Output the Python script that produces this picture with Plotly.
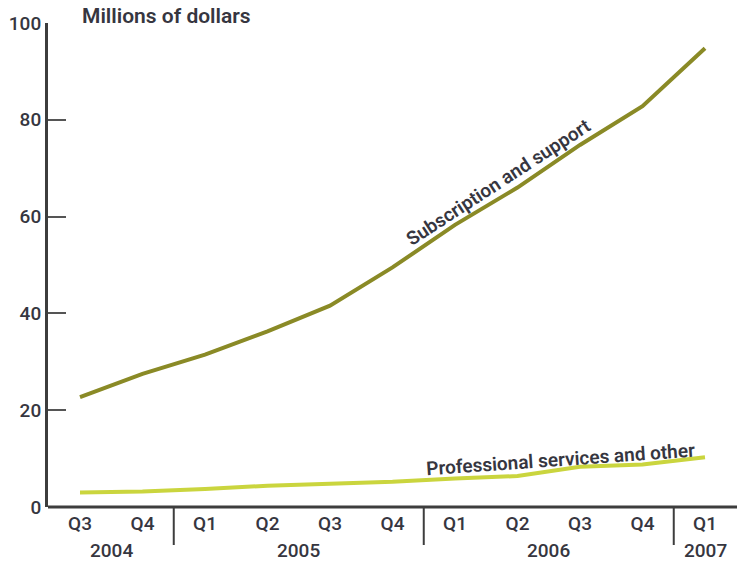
import plotly.graph_objects as go

# Quarterly revenue by segment, Q3 2004 - Q1 2007 (millions of dollars)
quarters = ["Q3", "Q4", "Q1", "Q2", "Q3", "Q4", "Q1", "Q2", "Q3", "Q4", "Q1"]
years = ["2004", "2005", "2006", "2007"]
subscription = [22.7, 27.5, 31.5, 36.3, 41.6, 49.5, 58.3, 66.0, 74.8, 82.8, 94.8]
professional = [3.0, 3.2, 3.7, 4.4, 4.8, 5.2, 5.9, 6.4, 8.3, 8.8, 10.3]
y_ticks = [0, 20, 40, 60, 80, 100]

x = list(range(len(quarters)))
FONT = "Roboto, Arial, sans-serif"
TXT = "#363640"
AX = "#3d3d3d"

fig = go.Figure()
fig.add_trace(go.Scatter(x=x, y=subscription, mode="lines",
                         line=dict(color="#8a8a26", width=4), hoverinfo="skip"))
fig.add_trace(go.Scatter(x=x, y=professional, mode="lines",
                         line=dict(color="#cad53e", width=4), hoverinfo="skip"))

fig.update_layout(
    width=737, height=563,
    margin=dict(l=48, r=0, t=23, b=56),
    paper_bgcolor="white", plot_bgcolor="white",
    showlegend=False,
    font=dict(family=FONT, color=TXT, size=19),
    xaxis=dict(range=[-0.512, 10.512], tickvals=x, ticktext=quarters,
               showgrid=False, zeroline=False, showline=False, ticks="",
               ticklabelstandoff=3,
               tickfont=dict(family=FONT, size=19, color=TXT, weight=500)),
    yaxis=dict(range=[0, 100], tickvals=y_ticks, showgrid=False, zeroline=False,
               showline=True, linecolor=AX, linewidth=3,
               ticks="inside", ticklen=18, tickwidth=2, tickcolor="#555555",
               tickfont=dict(family=FONT, size=19, color=TXT, weight=500)),
)

# x-axis baseline across the full width
fig.add_shape(type="line", xref="paper", yref="paper", x0=0, x1=1, y0=0, y1=0,
              line=dict(color=AX, width=3))

# year separators below the axis
for sep in [1.5, 5.5, 9.5]:
    fig.add_shape(type="line", xref="x", yref="paper", x0=sep, x1=sep,
                  y0=0, y1=-38 / 484, line=dict(color=AX, width=2))

# year labels centred under their quarters
year_pos = [0.5, 3.5, 7.5, 10]
for yr, xp in zip(years, year_pos):
    fig.add_annotation(x=xp, y=-43 / 484, xref="x", yref="paper",
                       yanchor="middle", text=yr, showarrow=False,
                       font=dict(family=FONT, size=19, color=TXT, weight=500))

# unit label at the top of the value axis
fig.add_annotation(xref="paper", yref="paper", x=(80 - 48) / 689, y=1.0, yshift=7,
                   xanchor="left", yanchor="middle",
                   text="Millions of dollars", showarrow=False,
                   font=dict(family=FONT, size=21, color=TXT, weight=600))

# series labels along the lines
fig.add_annotation(x=6.69, y=67.0, xref="x", yref="y", text="Subscription and support",
                   showarrow=False, textangle=-33,
                   font=dict(family=FONT, size=19, color=TXT, weight=600))
fig.add_annotation(x=7.68, y=9.8, xref="x", yref="y", text="Professional services and other",
                   showarrow=False, textangle=-4,
                   font=dict(family=FONT, size=19, color=TXT, weight=600))

fig.write_html("out.html")
